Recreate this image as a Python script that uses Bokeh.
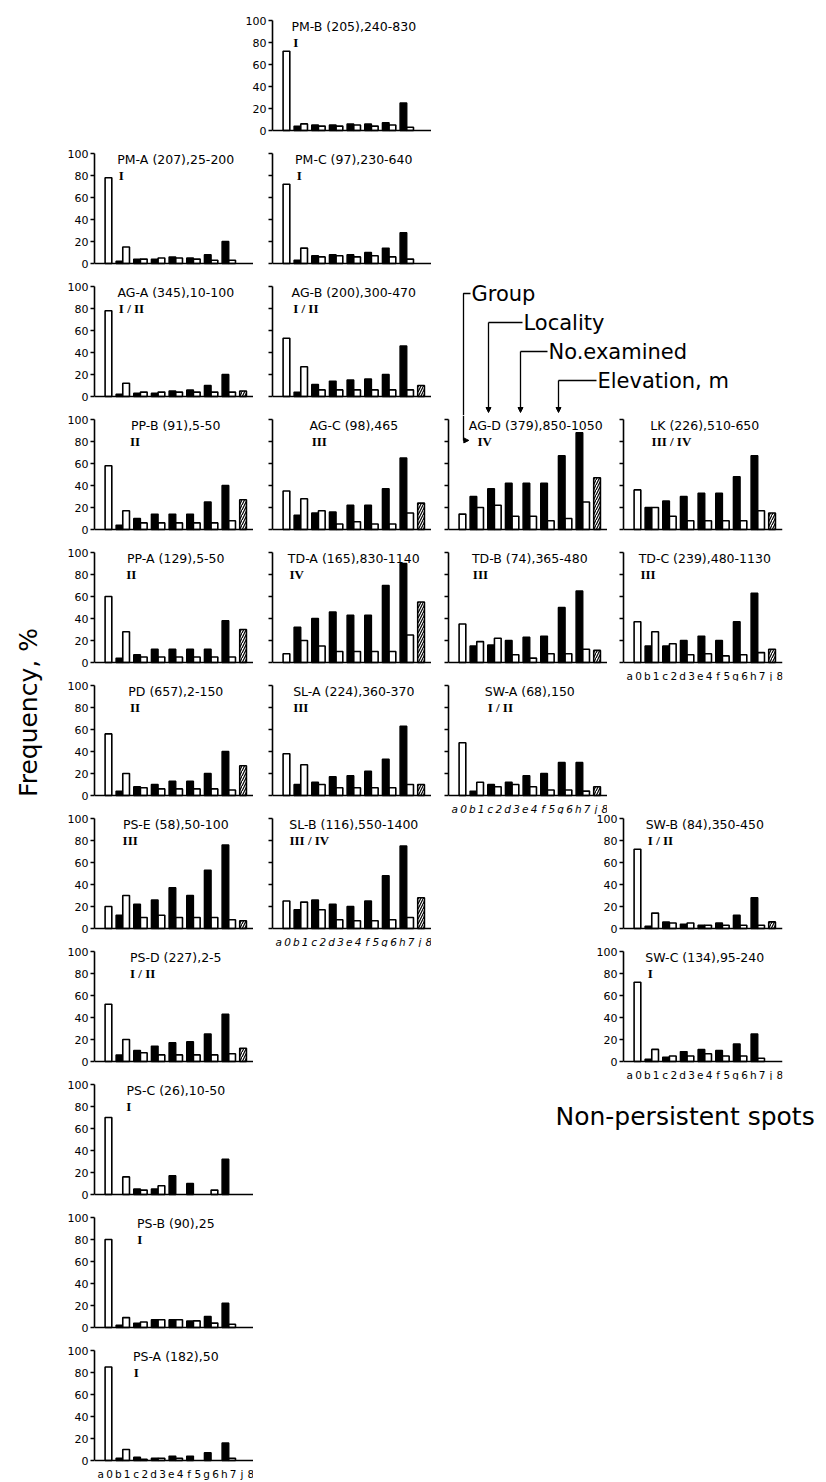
import numpy as np
from bokeh.plotting import figure
from bokeh.models import Range1d, FixedTicker, Span, Label, Arrow, NormalHead, Spacer
from bokeh.layouts import row, column
from bokeh.core.properties import value
from bokeh.embed import file_html
from bokeh.resources import INLINE

# ---------------- data ----------------
CATEGORY_LABELS = list("a0b1c2d3e4f5g6h7j8")
GROUP_POS = np.arange(9) + 0.6   # group centres a0, b1, ..., j8

# filled = letter bars (groups a..h), open = number bars (groups 0..7), hatched = j8
PM_B_filled = [0, 4, 5, 5, 6, 6, 7, 25];   PM_B_open = [72, 6, 4, 4, 5, 4, 5, 3];   PM_B_hatch = 0
PM_A_filled = [0, 2, 4, 4, 6, 5, 8, 20];   PM_A_open = [78, 15, 4, 5, 5, 4, 3, 3];  PM_A_hatch = 0
PM_C_filled = [0, 3, 7, 8, 8, 10, 14, 28]; PM_C_open = [72, 14, 6, 7, 6, 7, 6, 4];  PM_C_hatch = 0
AG_A_filled = [0, 2, 3, 3, 5, 6, 10, 20];  AG_A_open = [78, 12, 4, 4, 4, 4, 4, 4];  AG_A_hatch = 5
AG_B_filled = [0, 4, 11, 14, 15, 16, 20, 46]; AG_B_open = [53, 27, 6, 6, 6, 6, 6, 6]; AG_B_hatch = 10
PP_B_filled = [0, 4, 10, 14, 14, 14, 25, 40]; PP_B_open = [58, 17, 6, 6, 6, 6, 6, 8]; PP_B_hatch = 27
AG_C_filled = [0, 13, 15, 16, 22, 22, 37, 65]; AG_C_open = [35, 28, 17, 5, 7, 5, 5, 15]; AG_C_hatch = 24
AG_D_filled = [0, 30, 37, 42, 42, 42, 67, 88]; AG_D_open = [14, 20, 22, 12, 12, 8, 10, 25]; AG_D_hatch = 47
LK_filled = [0, 20, 26, 30, 33, 33, 48, 67];   LK_open = [36, 20, 12, 8, 8, 8, 8, 17];   LK_hatch = 15
PP_A_filled = [0, 4, 7, 12, 12, 12, 12, 38];   PP_A_open = [60, 28, 5, 5, 5, 5, 5, 5];   PP_A_hatch = 30
TD_A_filled = [0, 32, 40, 46, 43, 43, 70, 90]; TD_A_open = [8, 20, 15, 10, 10, 10, 10, 25]; TD_A_hatch = 55
TD_B_filled = [0, 15, 16, 20, 23, 24, 50, 65]; TD_B_open = [35, 19, 22, 7, 4, 8, 8, 12]; TD_B_hatch = 11
TD_C_filled = [0, 15, 15, 20, 24, 20, 37, 63]; TD_C_open = [37, 28, 17, 7, 8, 6, 7, 9];  TD_C_hatch = 12
PD_filled = [0, 4, 8, 10, 13, 13, 20, 40];     PD_open = [56, 20, 7, 6, 6, 6, 6, 5];     PD_hatch = 27
SL_A_filled = [0, 10, 12, 17, 18, 22, 33, 63]; SL_A_open = [38, 28, 10, 7, 7, 7, 7, 10]; SL_A_hatch = 10
SW_A_filled = [0, 4, 10, 12, 18, 20, 30, 30];  SW_A_open = [48, 12, 8, 10, 8, 5, 5, 4];  SW_A_hatch = 8
PS_E_filled = [0, 12, 22, 26, 37, 30, 53, 76]; PS_E_open = [20, 30, 10, 12, 10, 10, 10, 8]; PS_E_hatch = 7
SL_B_filled = [0, 17, 26, 22, 20, 25, 48, 75]; SL_B_open = [25, 24, 17, 8, 7, 7, 8, 10]; SL_B_hatch = 28
SW_B_filled = [0, 2, 6, 4, 3, 5, 12, 28];      SW_B_open = [72, 14, 5, 5, 3, 3, 3, 3];   SW_B_hatch = 6
PS_D_filled = [0, 6, 10, 14, 17, 18, 25, 43];  PS_D_open = [52, 20, 8, 6, 6, 6, 6, 7];   PS_D_hatch = 12
SW_C_filled = [0, 2, 4, 9, 11, 10, 16, 25];    SW_C_open = [72, 11, 5, 5, 7, 5, 5, 3];   SW_C_hatch = 0
PS_C_filled = [0, 0, 5, 5, 17, 10, 0, 32];     PS_C_open = [70, 16, 4, 8, 0, 0, 4, 0];   PS_C_hatch = 0
PS_B_filled = [0, 2, 4, 7, 7, 6, 10, 22];      PS_B_open = [80, 9, 5, 7, 7, 6, 4, 3];    PS_B_hatch = 0
PS_A_filled = [0, 2, 3, 2, 4, 4, 7, 16];       PS_A_open = [85, 10, 1, 2, 2, 0, 0, 2];   PS_A_hatch = 0

Y_TICKS = [0, 20, 40, 60, 80, 100]

# ---------------- layout constants ----------------
FRAME_W = 159          # px for 9 groups
PXU = FRAME_W / 9.0    # px per group unit
PY = 1.1               # px per percent
COL_W = [62, 191, 178, 176, 219]
COL_LB = [0, 32, 19, 17, 16]
FONT = "DejaVu Sans"


def row_pads(r):
    top = 20 if r == 0 else 4
    bot = 21 if r == 10 else 19
    return top, bot


ROW_H = [row_pads(r)[0] + 110 + row_pads(r)[1] for r in range(11)]
TOTAL_H = sum(ROW_H)


def panel(title, group, data, r, width, lb, tick_labels=False, x_labels=False, italic=False,
          title_dx=0.0, num_dx=0.0):
    filled, opened, hatch = data
    top, bot = row_pads(r)
    h = top + 110 + bot
    p = figure(width=width, height=h, output_backend="svg", toolbar_location=None,
               x_range=Range1d(0, 9), y_range=Range1d(-bot / PY, 100 + top / PY),
               x_axis_location=None, y_axis_location="left",
               min_border_left=lb, min_border_right=width - lb - FRAME_W,
               min_border_top=0, min_border_bottom=0)
    p.outline_line_color = None
    p.grid.visible = False
    p.background_fill_color = "white"
    p.border_fill_color = "white"

    f = np.array(filled, dtype=float)
    o = np.array(opened, dtype=float)
    fx = GROUP_POS[:8] - 0.19
    ox = GROUP_POS[:8] + 0.19
    mf = f > 0
    mo = o > 0
    p.vbar(x=fx[mf], top=f[mf], bottom=0, width=0.38, fill_color="black",
           line_color="black", line_width=1.4)
    p.vbar(x=ox[mo], top=o[mo], bottom=0, width=0.38, fill_color="white",
           line_color="black", line_width=1.6)
    if hatch > 0:
        p.vbar(x=[GROUP_POS[8] - 0.19], top=[hatch], bottom=0, width=0.38,
               fill_color="white", line_color="black", line_width=1.6,
               hatch_pattern="/", hatch_color="black", hatch_scale=5, hatch_weight=1.2)
    p.add_layout(Span(location=0, dimension="width", line_color="black", line_width=1.7))

    ax = p.yaxis[0]
    ax.ticker = FixedTicker(ticks=Y_TICKS)
    ax.bounds = (0, 100)
    ax.major_tick_in = 0
    ax.major_tick_out = 4
    ax.minor_tick_line_color = None
    ax.axis_line_width = 1.6
    ax.major_tick_line_width = 1.4
    ax.major_label_standoff = 2
    ax.major_label_text_font = FONT
    ax.major_label_text_color = "black"
    ax.major_label_text_font_size = "11px"
    if not tick_labels:
        ax.major_label_overrides = {t: "" for t in Y_TICKS}

    tc = 4.6 + title_dx / PXU
    p.add_layout(Label(x=tc, y=95.0, text=title, text_align="center", text_baseline="middle",
                       text_font=FONT, text_font_size="12.5px", text_color="black"))
    left_px = tc * PXU - len(title) * 3.7 + 6 + num_dx
    p.add_layout(Label(x=left_px / PXU, y=80, text=group, text_align="left",
                       text_baseline="middle", text_font="Liberation Serif",
                       text_font_style="bold", text_font_size="13px", text_color="black"))
    if x_labels:
        p.text(x=0.35 + 0.5 * np.arange(len(CATEGORY_LABELS)), y=[-12.5] * len(CATEGORY_LABELS),
               text=CATEGORY_LABELS, text_align="center", text_baseline="middle",
               text_font=value(FONT), text_font_size=value("10.5px"),
               text_font_style="italic" if italic else "normal", text_color="black")
    return p


def cell(title, group, data, r, col, span=1, tick_labels=None, x_labels=False, italic=False,
         title_dx=0.0, num_dx=0.0):
    width = sum(COL_W[col - span + 1: col + 1])
    lb = sum(COL_W[col - span + 1: col]) + COL_LB[col]
    if tick_labels is None:
        tick_labels = (col == 1)
    return panel(title, group, data, r, width, lb, tick_labels, x_labels, italic, title_dx, num_dx)


def blank(width, height, xr, yr):
    f = figure(width=width, height=height, output_backend="svg", toolbar_location=None,
               x_range=Range1d(*xr), y_range=Range1d(*yr),
               x_axis_location=None, y_axis_location=None, min_border=0)
    f.outline_line_color = None
    f.grid.visible = False
    return f


def gap(w, r):
    return Spacer(width=w, height=ROW_H[r])


X34 = sum(COL_W[:3])
W34 = COL_W[3] + COL_W[4]

# key annotation (row 2, cols 3-4), page pixel coordinates
y2 = sum(ROW_H[:2])
ann = blank(W34, ROW_H[2], (X34, X34 + W34), (y2 + ROW_H[2], y2))
keys = [("Group", 471, 293, 463), ("Locality", 523, 322, 488),
        ("No.examined", 548, 351, 520), ("Elevation, m", 597, 380, 558)]
for i, (txt, tx, ty, vx) in enumerate(keys):
    ann.add_layout(Label(x=tx, y=ty, text=txt, text_align="left", text_baseline="middle",
                         text_font=FONT, text_font_size="21px", text_color="black"))
    if i == 0:
        ann.line(x=[tx - 1, vx, vx], y=[ty, ty, y2 + ROW_H[2]], line_color="black", line_width=1.3)
    else:
        ann.line(x=[tx - 1, vx], y=[ty, ty], line_color="black", line_width=1.3)
        ann.add_layout(Arrow(end=NormalHead(size=5, fill_color="black", line_color="black"),
                             x_start=vx, y_start=ty, x_end=vx, y_end=412,
                             line_color="black", line_width=1.3))

# "Non-persistent spots" (row 8, cols 3-4)
y8 = sum(ROW_H[:8])
npf = blank(W34, ROW_H[8], (X34, X34 + W34), (y8 + ROW_H[8], y8))
npf.add_layout(Label(x=555, y=1116, text="Non-persistent spots", text_align="left",
                     text_baseline="middle", text_font=FONT, text_font_size="25px",
                     text_color="black"))

agd = cell("AG-D (379),850-1050", "IV", (AG_D_filled, AG_D_open, AG_D_hatch), 3, 3,
           title_dx=6, num_dx=6)
gx = (463 - 448) / PXU
agd.line(x=[gx, gx], y=[100 + 4 / PY, 81], line_color="black", line_width=1.3)
agd.add_layout(Arrow(end=NormalHead(size=5, fill_color="black", line_color="black"),
                     x_start=gx, y_start=81, x_end=gx + 0.3, y_end=81,
                     line_color="black", line_width=1.3))

rows = [
    row(cell("PM-B (205),240-830", "I", (PM_B_filled, PM_B_open, PM_B_hatch), 0, 2, span=2, tick_labels=True)),
    row(cell("PM-A (207),25-200", "I", (PM_A_filled, PM_A_open, PM_A_hatch), 1, 1),
        cell("PM-C (97),230-640", "I", (PM_C_filled, PM_C_open, PM_C_hatch), 1, 2)),
    row(cell("AG-A (345),10-100", "I / II", (AG_A_filled, AG_A_open, AG_A_hatch), 2, 1),
        cell("AG-B (200),300-470", "I / II", (AG_B_filled, AG_B_open, AG_B_hatch), 2, 2),
        ann),
    row(cell("PP-B (91),5-50", "II", (PP_B_filled, PP_B_open, PP_B_hatch), 3, 1),
        cell("AG-C (98),465", "III", (AG_C_filled, AG_C_open, AG_C_hatch), 3, 2),
        agd,
        cell("LK (226),510-650", "III / IV", (LK_filled, LK_open, LK_hatch), 3, 4)),
    row(cell("PP-A (129),5-50", "II", (PP_A_filled, PP_A_open, PP_A_hatch), 4, 1),
        cell("TD-A (165),830-1140", "IV", (TD_A_filled, TD_A_open, TD_A_hatch), 4, 2),
        cell("TD-B (74),365-480", "III", (TD_B_filled, TD_B_open, TD_B_hatch), 4, 3),
        cell("TD-C (239),480-1130", "III", (TD_C_filled, TD_C_open, TD_C_hatch), 4, 4, x_labels=True)),
    row(cell("PD (657),2-150", "II", (PD_filled, PD_open, PD_hatch), 5, 1),
        cell("SL-A (224),360-370", "III", (SL_A_filled, SL_A_open, SL_A_hatch), 5, 2),
        cell("SW-A (68),150", "I / II", (SW_A_filled, SW_A_open, SW_A_hatch), 5, 3, x_labels=True, italic=True)),
    row(cell("PS-E (58),50-100", "III", (PS_E_filled, PS_E_open, PS_E_hatch), 6, 1),
        cell("SL-B (116),550-1400", "III / IV", (SL_B_filled, SL_B_open, SL_B_hatch), 6, 2, x_labels=True, italic=True),
        cell("SW-B (84),350-450", "I / II", (SW_B_filled, SW_B_open, SW_B_hatch), 6, 4, span=2, tick_labels=True)),
    row(cell("PS-D (227),2-5", "I / II", (PS_D_filled, PS_D_open, PS_D_hatch), 7, 1),
        gap(COL_W[2], 7),
        cell("SW-C (134),95-240", "I", (SW_C_filled, SW_C_open, SW_C_hatch), 7, 4, span=2, tick_labels=True, x_labels=True)),
    row(cell("PS-C (26),10-50", "I", (PS_C_filled, PS_C_open, PS_C_hatch), 8, 1),
        gap(COL_W[2], 8), npf),
    row(cell("PS-B (90),25", "I", (PS_B_filled, PS_B_open, PS_B_hatch), 9, 1)),
    row(cell("PS-A (182),50", "I", (PS_A_filled, PS_A_open, PS_A_hatch), 10, 1, x_labels=True)),
]

# left label column
lab = blank(COL_W[0], TOTAL_H, (0, COL_W[0]), (0, TOTAL_H))
lab.add_layout(Label(x=28, y=TOTAL_H - 712, text="Frequency, %", angle=np.pi / 2,
                     text_align="center", text_baseline="middle", text_font=FONT,
                     text_font_size="25px", text_color="black"))

layout = row(lab, column(*rows, spacing=0), spacing=0)

open("out.html", "w").write(file_html(layout, INLINE))
